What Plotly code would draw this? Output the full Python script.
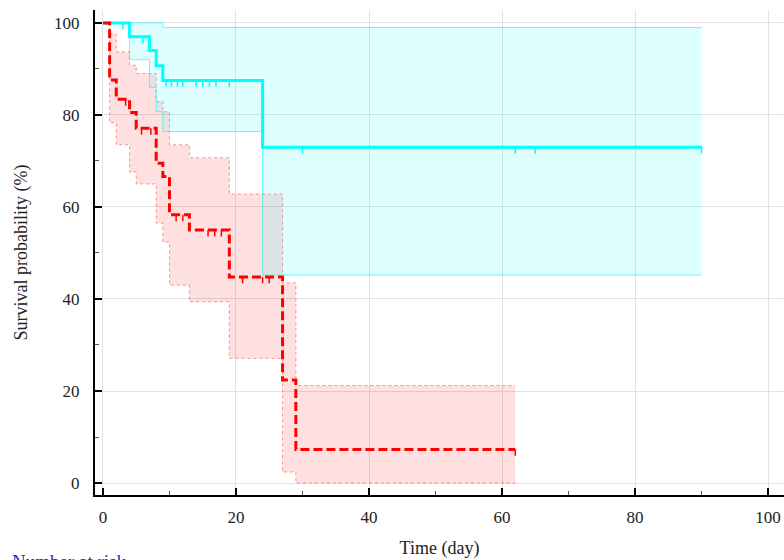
import plotly.graph_objects as go

# ---------------- data ----------------
# Group 1 (cyan, solid)
cyan_time = [0, 4, 7, 8, 9, 24]
cyan_surv = [100, 97.0, 94.0, 90.7, 87.5, 73.0]
cyan_upper = [100, 100, 100, 100, 99.0, 99.0]
cyan_lower = [100, 92.0, 86.0, 80.7, 76.4, 45.2]
cyan_censor = [3, 6, 9.5, 10.3, 11.2, 12, 14, 15, 16, 17, 19, 30, 62, 65, 90]
cyan_end = 90

# Group 2 (red, dashed)
red_time = [0, 1, 2, 4, 5, 8, 9, 10, 13, 19, 27, 29]
red_surv = [100, 87.6, 83.4, 80.5, 77.1, 69.5, 66.6, 58.3, 55.0, 44.8, 22.4, 7.3]
red_upper = [100, 97.6, 93.7, 90.8, 89.0, 82.9, 80.7, 73.5, 70.7, 62.8, 43.5, 21.2]
red_lower = [100, 78.3, 73.5, 67.6, 65.0, 56.5, 52.4, 43.0, 39.4, 27.1, 2.4, 0.0]
red_censor = [3.4, 5.8, 7.2, 11, 12, 15.8, 16.8, 17.8, 21, 24, 25, 62]
red_end = 62

x_ticks = [0, 20, 40, 60, 80, 100]
y_ticks = [0, 20, 40, 60, 80, 100]

SERIF = "Liberation Serif, Times New Roman, serif"


def extend(times, vals, end):
    return list(times) + [end], list(vals) + [vals[-1]]


def step_value(times, vals, t):
    v = vals[0]
    for ti, vi in zip(times, vals):
        if ti <= t:
            v = vi
    return v


def censor_segments(times, vals, cens, drop=1.4):
    xs, ys = [], []
    for c in cens:
        s = step_value(times, vals, c)
        xs += [c, c, None]
        ys += [s, s - drop, None]
    return xs, ys


fig = go.Figure()


def add_band(times, lower, upper, end, line_color, fill_color, dash):
    xl, yl = extend(times, lower, end)
    xu, yu = extend(times, upper, end)
    fig.add_trace(go.Scatter(x=xl, y=yl, mode="lines", line_shape="hv",
                             line=dict(color=line_color, width=1, dash=dash),
                             hoverinfo="skip", showlegend=False))
    fig.add_trace(go.Scatter(x=xu, y=yu, mode="lines", line_shape="hv",
                             line=dict(color=line_color, width=1, dash=dash),
                             fill="tonexty", fillcolor=fill_color,
                             hoverinfo="skip", showlegend=False))


add_band(red_time, red_lower, red_upper, red_end,
         "rgba(255,60,60,0.55)", "rgba(255,0,0,0.12)", "dot")
add_band(cyan_time, cyan_lower, cyan_upper, cyan_end,
         "rgba(0,240,240,0.55)", "rgba(0,255,255,0.13)", "solid")


def add_curve(times, surv, end, cens, color, dash):
    xs, ys = extend(times, surv, end)
    fig.add_trace(go.Scatter(x=xs, y=ys, mode="lines", line_shape="hv",
                             line=dict(color=color, width=3, dash=dash),
                             showlegend=False))
    cx, cy = censor_segments(times, surv, cens)
    fig.add_trace(go.Scatter(x=cx, y=cy, mode="lines",
                             line=dict(color=color, width=1.5),
                             hoverinfo="skip", showlegend=False))


add_curve(cyan_time, cyan_surv, cyan_end, cyan_censor, "#00ffff", "solid")
add_curve(red_time, red_surv, red_end, red_censor, "#ff0000", "9px,4px")

axis_common = dict(
    automargin=False,
    showgrid=True, gridcolor="#e2e2e2", gridwidth=1,
    zeroline=False, showline=True, linecolor="black", linewidth=2,
    ticks="inside", ticklen=7, tickwidth=2, tickcolor="black",
    tickfont=dict(family=SERIF, size=17, color="#222222"),
    minor=dict(ticks="inside", ticklen=4, tickwidth=1, tickcolor="#555555",
               dtick=10, showgrid=False),
)

fig.update_layout(
    width=784, height=560,
    margin=dict(l=95, r=0, t=10, b=65, autoexpand=False),
    paper_bgcolor="white", plot_bgcolor="white",
    font=dict(family=SERIF, color="#222222"),
    xaxis=dict(range=[-1.2, 102.4], tickvals=x_ticks, ticklabelstandoff=6,
               title=dict(text="Time (day)", font=dict(family=SERIF, size=18)),
               **axis_common),
    yaxis=dict(range=[-2.6, 102.8], tickvals=y_ticks, ticklabelstandoff=10,
               title=dict(text="Survival probability (%)",
                          font=dict(family=SERIF, size=18), standoff=22),
               **axis_common),
    annotations=[dict(text="Number at risk", xref="paper", yref="paper",
                      x=-0.123, y=-0.111, xanchor="left", yanchor="top",
                      showarrow=False,
                      font=dict(family=SERIF, size=19, color="#2a2ad0"))],
)

fig.write_html("out.html", config={"displayModeBar": False},
               post_script="document.body.style.margin='0';document.body.style.overflow='hidden';")
